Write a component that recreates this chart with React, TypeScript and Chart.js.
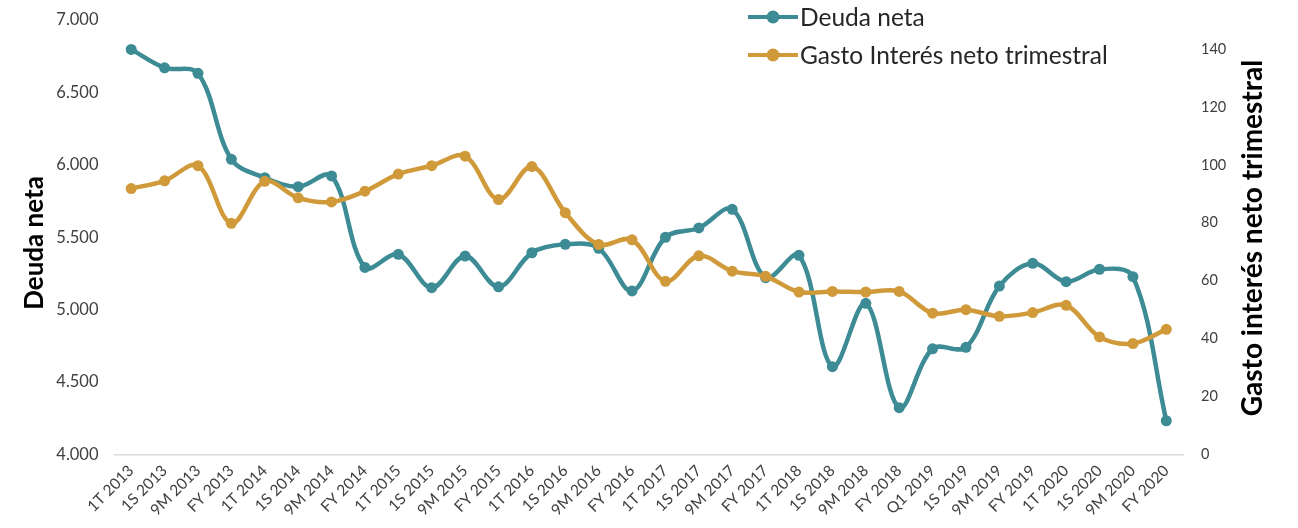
import React, { useEffect, useRef } from "react";
import { Chart, registerables } from "chart.js";

Chart.register(...registerables);

const categories = [
  "1T 2013", "1S 2013", "9M 2013", "FY 2013",
  "1T 2014", "1S 2014", "9M 2014", "FY 2014",
  "1T 2015", "1S 2015", "9M 2015", "FY 2015",
  "1T 2016", "1S 2016", "9M 2016", "FY 2016",
  "1T 2017", "1S 2017", "9M 2017", "FY 2017",
  "1T 2018", "1S 2018", "9M 2018", "FY 2018",
  "Q1 2019", "1S 2019", "9M 2019", "FY 2019",
  "1T 2020", "1S 2020", "9M 2020", "FY 2020",
];

const deudaNeta = [
  6797, 6670, 6632, 6038,
  5911, 5849, 5923, 5292,
  5382, 5152, 5370, 5158,
  5393, 5451, 5424, 5129,
  5500, 5564, 5693, 5221,
  5375, 4606, 5044, 4323,
  4730, 4740, 5163, 5320,
  5193, 5279, 5228, 4233,
];

const gastoInteres = [
  91.8, 94.5, 99.7, 79.8,
  94.3, 88.6, 87.2, 90.9,
  96.8, 99.7, 103, 88,
  99.4, 83.5, 72.5, 74.1,
  59.8, 68.6, 63.3, 61.5,
  56.1, 56.3, 56.1, 56.3,
  48.8, 50, 47.7, 49,
  51.5, 40.6, 38.3, 43.2,
];

const leftTitle = "Deuda neta";
const rightTitle = "Gasto interés neto trimestral";
const seriesNames = ["Deuda neta", "Gasto Interés neto trimestral"];

const TEAL = "#3d8b94";
const ORANGE = "#d09a3a";
const FONT = "Lato, 'Open Sans', sans-serif";

function fmtThousands(v: number): string {
  const n = Math.round(v);
  const th = Math.floor(n / 1000);
  const rest = n % 1000;
  return th > 0 ? `${th}.${String(rest).padStart(3, "0")}` : String(rest);
}

const titlesPlugin = {
  id: "axisTitles",
  afterDraw(chart: any) {
    const ctx = chart.ctx;
    ctx.save();
    ctx.fillStyle = "#000000";
    ctx.textBaseline = "alphabetic";
    ctx.textAlign = "center";
    ctx.save();
    ctx.font = `bold 26px ${FONT}`;
    ctx.translate(43, 243);
    ctx.rotate(-Math.PI / 2);
    ctx.fillText(leftTitle, 0, 0);
    ctx.restore();
    ctx.save();
    ctx.font = `bold 28px ${FONT}`;
    ctx.translate(1262, 238);
    ctx.rotate(-Math.PI / 2);
    ctx.fillText(rightTitle, 0, 0);
    ctx.restore();
    ctx.restore();
  },
};

function LegendItem({ color, label, top }: { color: string; label: string; top: number }) {
  return (
    <div
      style={{
        position: "absolute",
        left: 748,
        top: top - 14,
        height: 28,
        display: "flex",
        alignItems: "center",
        whiteSpace: "nowrap",
      }}
    >
      <svg width={50} height={28} style={{ display: "block" }}>
        <line x1={0} y1={14} x2={50} y2={14} stroke={color} strokeWidth={4} strokeLinecap="round" />
        <circle cx={25} cy={14} r={6.5} fill={color} />
      </svg>
      <span
        style={{
          fontFamily: FONT,
          fontSize: 24.5,
          color: "#262626",
          marginLeft: 2,
          lineHeight: "28px",
        }}
      >
        {label}
      </span>
    </div>
  );
}

export default function App() {
  const canvasRef = useRef<HTMLCanvasElement | null>(null);

  useEffect(() => {
    document.body.style.margin = "0";
    const canvas = canvasRef.current;
    if (!canvas) return;
    const chart = new Chart(canvas, {
      type: "line",
      data: {
        labels: categories,
        datasets: [
          {
            label: seriesNames[0],
            data: deudaNeta,
            yAxisID: "y",
            borderColor: TEAL,
            backgroundColor: TEAL,
            pointBackgroundColor: TEAL,
            pointBorderColor: TEAL,
            borderWidth: 4.5,
            pointRadius: 5.5,
            pointBorderWidth: 0,
            tension: 0.35,
            fill: false,
            order: 1,
          },
          {
            label: seriesNames[1],
            data: gastoInteres,
            yAxisID: "y1",
            borderColor: ORANGE,
            backgroundColor: ORANGE,
            pointBackgroundColor: ORANGE,
            pointBorderColor: ORANGE,
            borderWidth: 4.5,
            pointRadius: 5.5,
            pointBorderWidth: 0,
            tension: 0.35,
            fill: false,
            order: 0,
          },
        ],
      },
      options: {
        animation: false,
        responsive: true,
        maintainAspectRatio: false,
        layout: { padding: { top: 20, left: 0, right: 0, bottom: 0 } },
        plugins: {
          legend: { display: false },
          tooltip: { enabled: false },
          title: { display: false },
        },
        scales: {
          x: {
            type: "category",
            offset: true,
            grid: { display: false, drawTicks: false },
            border: { display: true, color: "#d9d9d9", width: 1.5 },
            ticks: {
              autoSkip: false,
              maxRotation: 45,
              minRotation: 45,
              padding: 7,
              color: "#404040",
              font: { family: FONT, size: 15.5 },
            },
            afterFit: (scale: any) => {
              scale.height = 73.5;
            },
          },
          y: {
            position: "left",
            min: 4000,
            max: 7000,
            grid: { display: false, drawTicks: false },
            border: { display: false },
            ticks: {
              stepSize: 500,
              padding: 16,
              color: "#404040",
              font: { family: FONT, size: 16.5 },
              callback: (v: any) => fmtThousands(Number(v)),
            },
            afterFit: (scale: any) => {
              scale.width = 114.5;
              scale.paddingTop = 0;
              scale.paddingBottom = 0;
            },
          },
          y1: {
            position: "right",
            min: 0,
            max: 150,
            grid: { display: false, drawTicks: false },
            border: { display: false },
            ticks: {
              stepSize: 20,
              padding: 18,
              color: "#404040",
              font: { family: FONT, size: 14.5 },
            },
            afterBuildTicks: (scale: any) => {
              scale.ticks = scale.ticks.filter((t: any) => t.value % 20 === 0);
            },
            afterFit: (scale: any) => {
              scale.width = 115;
              scale.paddingTop = 0;
              scale.paddingBottom = 0;
            },
          },
        },
      },
      plugins: [titlesPlugin],
    });
    return () => chart.destroy();
  }, []);

  return (
    <div style={{ position: "fixed", left: 0, top: 0, width: 1298, height: 528, background: "#ffffff" }}>
      <canvas ref={canvasRef} />
      <LegendItem color={TEAL} label={seriesNames[0]} top={17} />
      <LegendItem color={ORANGE} label={seriesNames[1]} top={55} />
    </div>
  );
}
